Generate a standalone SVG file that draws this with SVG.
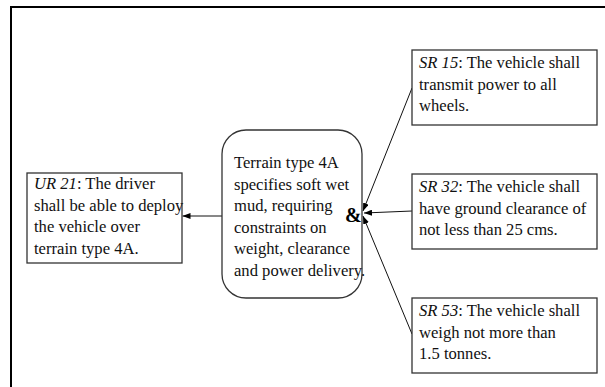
<svg xmlns="http://www.w3.org/2000/svg" width="605" height="387" viewBox="0 0 605 387">
<defs>
<marker id="ah" viewBox="0 0 8 6" refX="8" refY="3" markerWidth="8" markerHeight="6" markerUnits="userSpaceOnUse" orient="auto">
<path d="M0,0 L8,3 L0,6 Z" fill="#000"/>
</marker>
<style>
.box{fill:#fff;stroke:#333;stroke-width:1.3}
.t{font-family:"Liberation Serif","Times New Roman",serif;font-size:16.6px;fill:#111}
.c{stroke:#111;stroke-width:1;fill:none;marker-end:url(#ah)}
</style>
</defs>
<rect width="605" height="387" fill="#fff"/>
<path d="M11,387 V7 H605" fill="none" stroke="#000" stroke-width="2"/>
<g id="connectors">
<line class="c" x1="222" y1="216" x2="182.5" y2="216"/>
<line class="c" x1="412" y1="88" x2="363" y2="211"/>
<line class="c" x1="412" y1="211" x2="364" y2="213"/>
<line class="c" x1="412" y1="334" x2="363" y2="216"/>
</g>
<g id="ur21">
<rect class="box" x="27" y="173" width="155" height="90"/>
<text class="t" x="34" y="189"><tspan font-style="italic">UR 21</tspan>: The driver</text>
<text class="t" x="34" y="210.5">shall be able to deploy</text>
<text class="t" x="34" y="232">the vehicle over</text>
<text class="t" x="34" y="253.5">terrain type 4A.</text>
</g>
<g id="terrain">
<rect class="box" x="222" y="130" width="140" height="168" rx="24" ry="24"/>
<text class="t" x="234" y="168">Terrain type 4A</text>
<text class="t" x="234" y="189.5">specifies soft wet</text>
<text class="t" x="234" y="211">mud, requiring</text>
<text class="t" x="234" y="232.5">constraints on</text>
<text class="t" x="234" y="254">weight, clearance</text>
<text class="t" x="234" y="275.5">and power delivery.</text>
<text x="345" y="222" font-family="'Liberation Serif','Times New Roman',serif" font-size="20" font-weight="bold" fill="#000">&amp;</text>
</g>
<g id="sr15">
<rect class="box" x="412" y="50" width="185" height="75"/>
<text class="t" x="419" y="68"><tspan font-style="italic">SR 15</tspan>: The vehicle shall</text>
<text class="t" x="419" y="89.5">transmit power to all</text>
<text class="t" x="419" y="111">wheels.</text>
</g>
<g id="sr32">
<rect class="box" x="412" y="174" width="185" height="75"/>
<text class="t" x="419" y="192"><tspan font-style="italic">SR 32</tspan>: The vehicle shall</text>
<text class="t" x="419" y="213.5">have ground clearance of</text>
<text class="t" x="419" y="235">not less than 25 cms.</text>
</g>
<g id="sr53">
<rect class="box" x="412" y="298" width="185" height="75"/>
<text class="t" x="419" y="316"><tspan font-style="italic">SR 53</tspan>: The vehicle shall</text>
<text class="t" x="419" y="337.5">weigh not more than</text>
<text class="t" x="419" y="359">1.5 tonnes.</text>
</g>
</svg>
